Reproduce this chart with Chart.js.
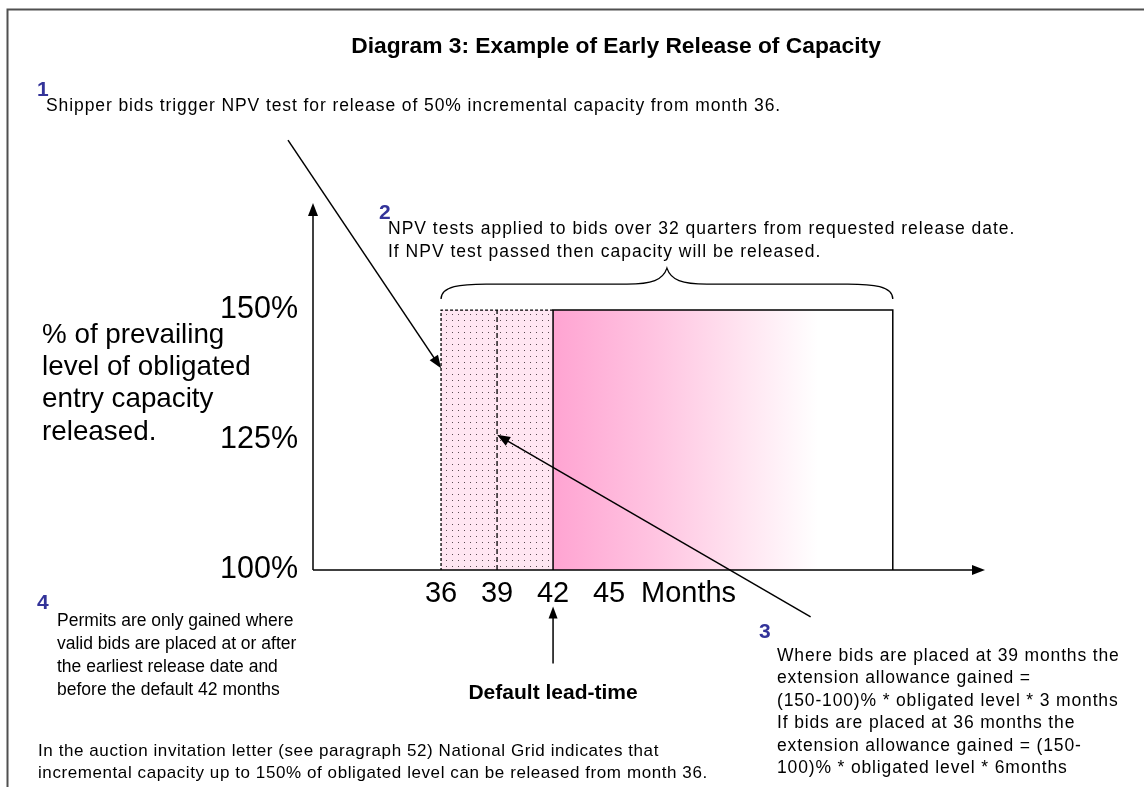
<!DOCTYPE html>
<html>
<head>
<meta charset="utf-8">
<title>Diagram 3: Example of Early Release of Capacity</title>
<script src="https://cdn.jsdelivr.net/npm/chart.js@4.4.1/dist/chart.umd.min.js"></script>
<style>
  html, body { margin: 0; padding: 0; background: #fff; }
  #wrap { position: relative; width: 1144px; height: 787px; }
</style>
</head>
<body>
<div id="wrap"><canvas id="myChart" width="1144" height="787"></canvas></div>
<script>
// values
var monthTicks = [36, 39, 42, 45];
var levelTicks = [100, 125, 150];
var earlyWindow = [36, 42];      // early release months (dotted block)
var bidMonth = 39;               // bids placed at 39 months
var npvWindow = [42, 60.2];      // NPV test period shown after default lead time
var baseLevel = 100;
var releasedLevel = 150;

var FONT = '"Liberation Sans", Arial, sans-serif';
var BLUE = '#333399';

// dotted pink fill for the early release block
function dotPattern() {
    var c = document.createElement('canvas');
    c.width = 6; c.height = 6;
    var g = c.getContext('2d');
    g.fillStyle = '#ffe6f2';
    g.fillRect(0, 0, 6, 6);
    g.fillStyle = '#5a4a52';
    g.fillRect(2, 2, 1, 1);
    return g.createPattern(c, 'repeat');
}

function fadeFill(context) {
    var chart = context.chart;
    if (!chart.chartArea) return '#ffa6d3';
    var x = chart.scales.x;
    var x0 = x.getPixelForValue(npvWindow[0]);
    var x1 = x.getPixelForValue(npvWindow[1]);
    var grad = chart.ctx.createLinearGradient(x0, 0, x1, 0);
    grad.addColorStop(0, '#ffa4d2');
    grad.addColorStop(0.3, '#ffc4e1');
    grad.addColorStop(0.55, '#ffe3f0');
    grad.addColorStop(0.78, '#ffffff');
    grad.addColorStop(1, '#ffffff');
    return grad;
}

function arrow(ctx, x0, y0, x1, y1, len, half) {
    var a = Math.atan2(y1 - y0, x1 - x0);
    ctx.beginPath();
    ctx.moveTo(x0, y0);
    ctx.lineTo(x1 - Math.cos(a) * len * 0.8, y1 - Math.sin(a) * len * 0.8);
    ctx.stroke();
    ctx.beginPath();
    ctx.moveTo(x1, y1);
    ctx.lineTo(x1 - Math.cos(a) * len - Math.sin(a) * half, y1 - Math.sin(a) * len + Math.cos(a) * half);
    ctx.lineTo(x1 - Math.cos(a) * len + Math.sin(a) * half, y1 - Math.sin(a) * len - Math.cos(a) * half);
    ctx.closePath();
    ctx.fill();
}

function text(ctx, str, x, y, size, opts) {
    opts = opts || {};
    ctx.font = (opts.bold ? 'bold ' : '') + size + 'px ' + FONT;
    ctx.letterSpacing = (opts.spacing || 0) + 'px';
    ctx.fillStyle = opts.color || '#000';
    ctx.textAlign = opts.align || 'left';
    ctx.textBaseline = 'middle';
    ctx.fillText(str, x, y);
    ctx.letterSpacing = '0px';
}

function lines(ctx, arr, x, y, step, size, spacing) {
    arr.forEach(function (s, i) { text(ctx, s, x, y + i * step, size, { spacing: spacing }); });
}

var diagramPlugin = {
    id: 'diagram',
    beforeDraw: function (chart) {
        var ctx = chart.ctx;
        ctx.save();
        ctx.fillStyle = '#fff';
        ctx.fillRect(0, 0, chart.width, chart.height);
        // frame
        ctx.strokeStyle = '#505050';
        ctx.lineWidth = 2;
        ctx.beginPath();
        ctx.moveTo(7.5, 787);
        ctx.lineTo(7.5, 9.5);
        ctx.lineTo(1144, 9.5);
        ctx.stroke();
        ctx.restore();
    },
    afterDatasetsDraw: function (chart) {
        var ctx = chart.ctx;
        var x = chart.scales.x, y = chart.scales.y;
        var area = chart.chartArea;
        var px = function (v) { return x.getPixelForValue(v); };
        var py = function (v) { return y.getPixelForValue(v); };
        ctx.save();
        ctx.strokeStyle = '#000';
        ctx.fillStyle = '#000';
        ctx.lineWidth = 1.5;

        // axes with arrow heads
        arrow(ctx, area.left, area.bottom, area.right, area.bottom, 13, 5);
        arrow(ctx, area.left, area.bottom, area.left, area.top, 13, 5);

        // brace over the NPV period
        var bl = px(earlyWindow[0]), br = px(npvWindow[1]);
        var bm = (bl + br) / 2;
        var yb = py(releasedLevel) - 11, yh = yb - 15, yt = yh - 16;
        ctx.lineWidth = 1.3;
        ctx.beginPath();
        ctx.moveTo(bl, yb);
        ctx.bezierCurveTo(bl, yh + 2, bl + 20, yh, bl + 45, yh);
        ctx.lineTo(bm - 40, yh);
        ctx.bezierCurveTo(bm - 15, yh, bm - 4, yh - 4, bm, yt);
        ctx.bezierCurveTo(bm + 4, yh - 4, bm + 15, yh, bm + 40, yh);
        ctx.lineTo(br - 45, yh);
        ctx.bezierCurveTo(br - 20, yh, br, yh + 2, br, yb);
        ctx.stroke();

        // annotation arrows (data units)
        ctx.lineWidth = 1.5;
        arrow(ctx, px(27.8), py(182.7), px(earlyWindow[0]), py(138.8), 13, 5);
        arrow(ctx, px(55.8), py(91), px(bidMonth), py(126), 13, 5);
        arrow(ctx, px(npvWindow[0]), py(82), px(npvWindow[0]), py(93), 12, 4.5);

        // tick labels
        levelTicks.forEach(function (v) {
            text(ctx, v + '%', area.left - 15, py(v), 30.5, { align: 'right' });
        });
        monthTicks.forEach(function (v) {
            text(ctx, String(v), px(v), area.bottom + 24, 29, { align: 'center' });
        });
        text(ctx, 'Months', 641, area.bottom + 24, 29);

        // titles and notes
        text(ctx, 'Diagram 3: Example of Early Release of Capacity', 616, 47, 22.8, { bold: true, align: 'center' });
        lines(ctx, ['% of prevailing', 'level of obligated', 'entry capacity', 'released.'], 42, 335, 32.3, 27.8, 0);

        text(ctx, '1', 37, 90, 21, { bold: true, color: BLUE });
        text(ctx, 'Shipper bids trigger NPV test for release of 50% incremental capacity from month 36.', 46, 106, 17.5, { spacing: 0.9 });

        text(ctx, '2', 379, 213, 21, { bold: true, color: BLUE });
        lines(ctx, ['NPV tests applied to bids over 32 quarters from requested release date.',
            'If NPV test passed then capacity will be released.'], 388, 229, 23, 17.5, 1.0);

        text(ctx, '3', 759, 632, 21, { bold: true, color: BLUE });
        lines(ctx, ['Where bids are placed at 39 months the',
            'extension allowance gained =',
            '(150-100)% * obligated level * 3 months',
            'If bids are placed at 36 months the',
            'extension allowance gained = (150-',
            '100)% * obligated level * 6months'], 777, 656, 22.5, 17.5, 0.85);

        text(ctx, '4', 37, 603, 21, { bold: true, color: BLUE });
        lines(ctx, ['Permits are only gained where',
            'valid bids are placed at or after',
            'the earliest release date and',
            'before the default 42 months'], 57, 621, 23, 17.5, 0);

        text(ctx, 'Default lead-time', px(npvWindow[0]), 693, 21, { bold: true, align: 'center' });

        lines(ctx, ['In the auction invitation letter (see paragraph 52) National Grid indicates that',
            'incremental capacity up to 150% of obligated level can be released from month 36.'], 38, 751, 22, 17, 0.58);

        ctx.restore();
    }
};

var ctx = document.getElementById('myChart');
var myChart = new Chart(ctx, {
    type: 'scatter',
    data: {
        datasets: [
            {
                // dashed outline of early block
                data: [{ x: npvWindow[0], y: releasedLevel }, { x: earlyWindow[0], y: releasedLevel }, { x: earlyWindow[0], y: baseLevel }],
                showLine: true, borderColor: '#000', borderWidth: 1.3, borderDash: [3, 2],
                pointRadius: 0, fill: false, order: 0
            },
            {
                // solid outline of NPV block
                data: [{ x: npvWindow[0], y: baseLevel }, { x: npvWindow[0], y: releasedLevel }, { x: npvWindow[1], y: releasedLevel }, { x: npvWindow[1], y: baseLevel }],
                showLine: true, borderColor: '#000', borderWidth: 1.5,
                pointRadius: 0, fill: false, order: 0
            },
            {
                // bids at 39 months
                data: [{ x: bidMonth, y: baseLevel }, { x: bidMonth, y: releasedLevel }],
                showLine: true, borderColor: '#000', borderWidth: 1.3, borderDash: [5, 3],
                pointRadius: 0, fill: false, order: 1
            },
            {
                label: 'Early release',
                data: [{ x: earlyWindow[0], y: releasedLevel }, { x: earlyWindow[1], y: releasedLevel }],
                showLine: true, borderWidth: 0, borderColor: 'rgba(0,0,0,0)',
                backgroundColor: dotPattern(), fill: { value: baseLevel },
                pointRadius: 0, order: 2
            },
            {
                label: 'NPV period',
                data: [{ x: npvWindow[0], y: releasedLevel }, { x: npvWindow[1], y: releasedLevel }],
                showLine: true, borderWidth: 0, borderColor: 'rgba(0,0,0,0)',
                backgroundColor: fadeFill, fill: { value: baseLevel },
                pointRadius: 0, order: 2
            }
        ]
    },
    options: {
        responsive: false,
        animation: false,
        devicePixelRatio: 1,
        layout: { padding: { left: 313, right: 159, top: 203, bottom: 217 } },
        plugins: { legend: { display: false }, tooltip: { enabled: false } },
        scales: {
            x: { type: 'linear', min: 29.14, max: 65.14, display: false },
            y: { type: 'linear', min: 100, max: 170.6, display: false }
        }
    },
    plugins: [diagramPlugin]
});
</script>
</body>
</html>
